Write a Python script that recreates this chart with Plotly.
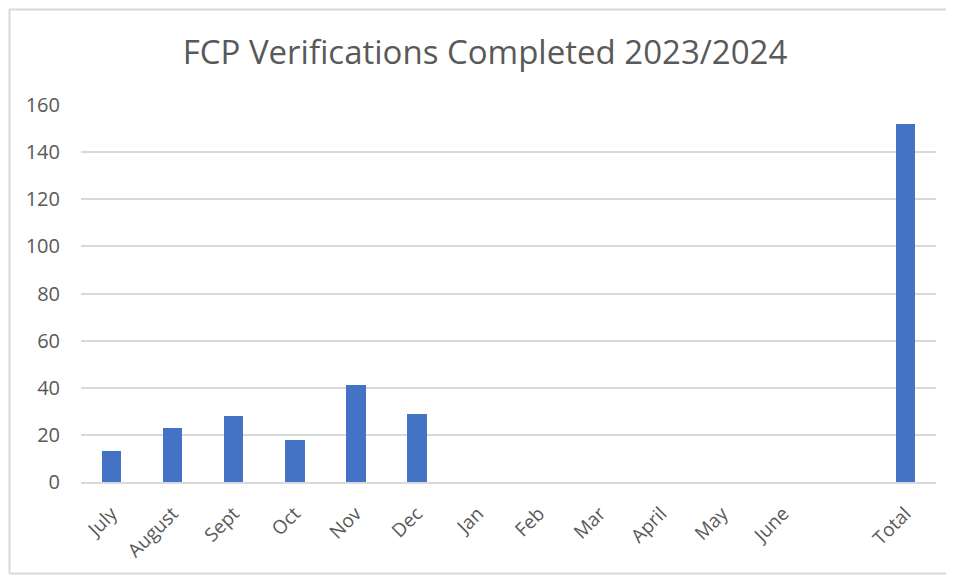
import plotly.graph_objects as go

categories = ["July", "August", "Sept", "Oct", "Nov", "Dec", "Jan", "Feb",
              "Mar", "April", "May", "June", " ", "Total"]
values = [13, 23, 28, 18, 41, 29, None, None, None, None, None, None, None, 152]
y_ticks = [0, 20, 40, 60, 80, 100, 120, 140, 160]

# page body has an 8px margin on every side; keep the figure inside the window
OFF = 8
W, H = 954 - 2 * OFF, 583 - 2 * OFF
L, T = 81 - OFF, 105 - OFF
R = W - L - (936 - 81)
B = H - T - (482 - 105)
pw = W - L - R
ph = H - T - B

fig = go.Figure(go.Bar(
    x=categories, y=values,
    marker=dict(color="#4472C4", line=dict(width=0)),
    width=0.32,
))

def fx(p):  # figure pixel -> paper x
    return (p - L) / pw

def fy(p):  # figure pixel -> paper y
    return (H - B - p) / ph

xl, xr, yt, yb = fx(1.5), fx(W + 40), fy(1.5), fy(H - 1.5)
border_path = (f"M {xl},{yb} L {xl},{yt} L {xr},{yt} "
               f"M {xl},{yb} L {xr},{yb}")

fig.update_layout(
    width=W, height=H,
    margin=dict(l=L, r=R, t=T, b=B, autoexpand=False),
    paper_bgcolor="white", plot_bgcolor="white",
    font=dict(family="Open Sans", color="#595959"),
    title=dict(text="FCP Verifications Completed 2023/2024",
               x=(485 - OFF) / W, xanchor="center", y=1 - (52 - OFF) / H, yanchor="middle",
               font=dict(size=33, color="#595959", family="Open Sans")),
    showlegend=False,
    bargap=0,
    xaxis=dict(type="category", categoryorder="array", categoryarray=categories,
               tickangle=-45, tickfont=dict(size=19, color="#595959"), automargin=False,
               showgrid=False, showline=True, linecolor="#d9d9d9", linewidth=2,
               ticks="outside", ticklen=11, tickcolor="rgba(0,0,0,0)"),
    yaxis=dict(range=[0, 160], tickvals=y_ticks, ticktext=[str(v) for v in y_ticks],
               tickfont=dict(size=20, color="#595959"), automargin=False,
               showgrid=True, gridcolor="#d9d9d9", gridwidth=2,
               zeroline=False, showline=False, ticks="outside", ticklen=16,
               tickcolor="rgba(0,0,0,0)"),
    shapes=[
        dict(type="path", xref="paper", yref="paper", path=border_path,
             line=dict(color="#d9d9d9", width=2), fillcolor="rgba(0,0,0,0)"),
        dict(type="rect", xref="paper", yref="paper",
             x0=fx(W - 5), x1=fx(W + 60), y0=fy(H - 4), y1=fy(4),
             fillcolor="white", line=dict(width=0), layer="above"),
    ],
)

fig.write_html("out.html")
